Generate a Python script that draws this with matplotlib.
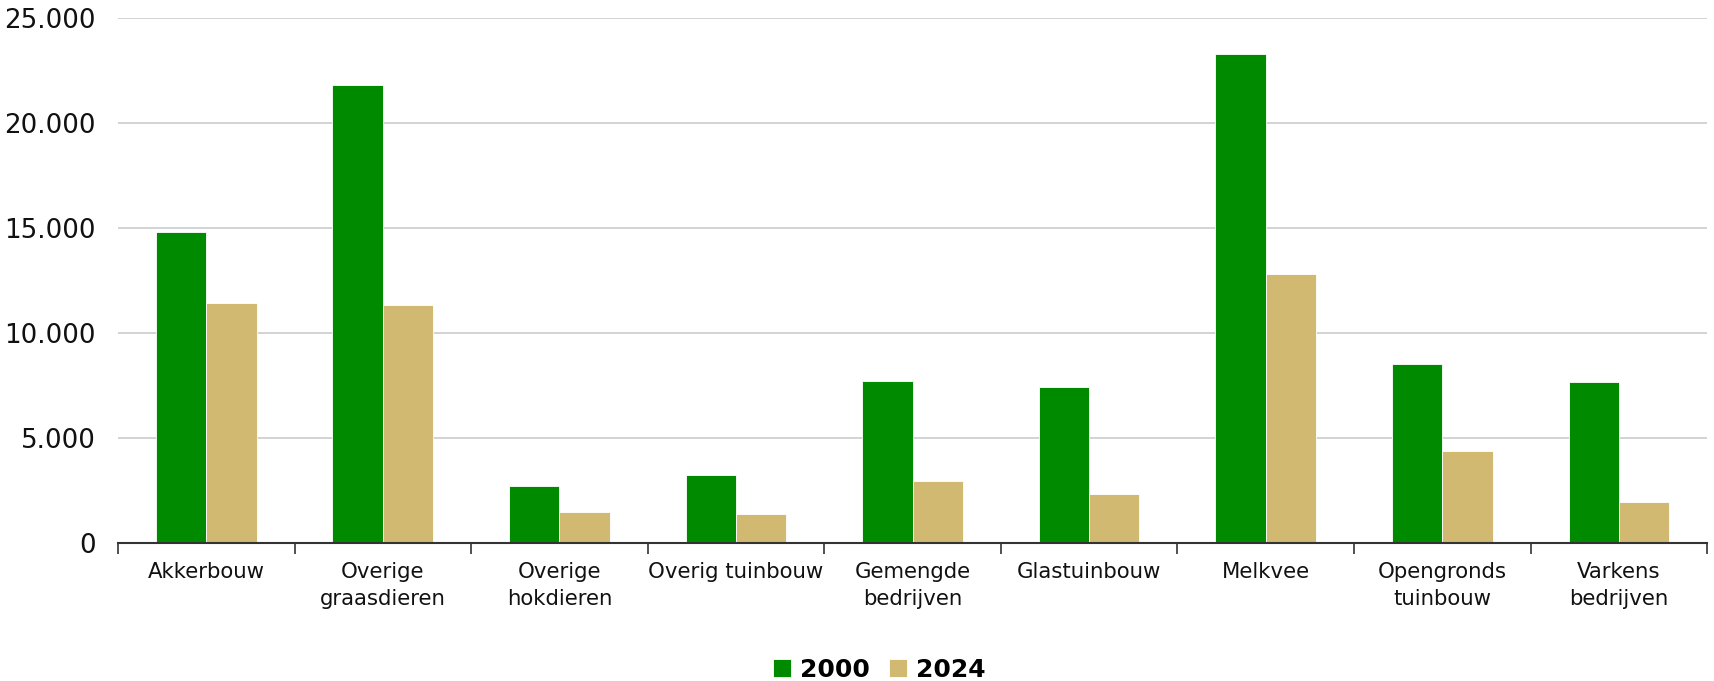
import matplotlib.pyplot as plt
import numpy as np
from matplotlib.ticker import FuncFormatter, FixedLocator

categories = ['Akkerbouw', 'Overige\ngraasdieren', 'Overige\nhokdieren', 'Overig tuinbouw',
              'Gemengde\nbedrijven', 'Glastuinbouw', 'Melkvee', 'Opengronds\ntuinbouw',
              'Varkens\nbedrijven']
values_2000 = [14780, 21810, 2730, 3260, 7710, 7440, 23270, 8530, 7650]
values_2024 = [11400, 11310, 1460, 1380, 2940, 2310, 12790, 4380, 1940]

green = '#008a00'
tan = '#d1b972'

fig = plt.figure(figsize=(17.14, 6.81), dpi=100)
ax = fig.add_axes([0.0688, 0.2026, 0.9272, 0.7714])

x = np.arange(len(categories))
w = 0.285
ax.bar(x - w / 2, values_2000, w, color=green, edgecolor='#ffffff', linewidth=0.6, label='2000', zorder=3)
ax.bar(x + w / 2, values_2024, w, color=tan, edgecolor='#ffffff', linewidth=0.6, label='2024', zorder=3)

ax.set_xlim(-0.5, len(categories) - 0.5)
ax.set_ylim(0, 25000)
ax.set_yticks(range(0, 25001, 5000))
ax.yaxis.set_major_formatter(FuncFormatter(lambda v, p: f'{int(v):,}'.replace(',', '.')))
ax.tick_params(axis='y', length=0, pad=16, labelsize=18.8, labelcolor='#111111')

ax.set_xticks(x)
ax.set_xticklabels(categories, fontsize=15.3, linespacing=1.38)
ax.tick_params(axis='x', which='major', length=0, pad=14, labelcolor='#111111')
ax.xaxis.set_minor_locator(FixedLocator(np.arange(-0.5, len(categories), 1.0)))
ax.tick_params(axis='x', which='minor', length=8, width=1.2, color='#333333', direction='out')

ax.grid(axis='y', color='#cccccc', linewidth=1.2, zorder=0)
for s in ['top', 'right', 'left']:
    ax.spines[s].set_visible(False)
ax.spines['bottom'].set_color('#333333')
ax.spines['bottom'].set_linewidth(1.5)
ax.spines['bottom'].set_zorder(4)

leg = fig.legend(loc='lower center', bbox_to_anchor=(0.513, -0.034), ncol=2, frameon=False,
                 prop={'weight': 'bold', 'size': 18}, handlelength=0.72, handleheight=0.72,
                 handletextpad=0.35, columnspacing=0.8)

fig.savefig('out.png', dpi=100)
